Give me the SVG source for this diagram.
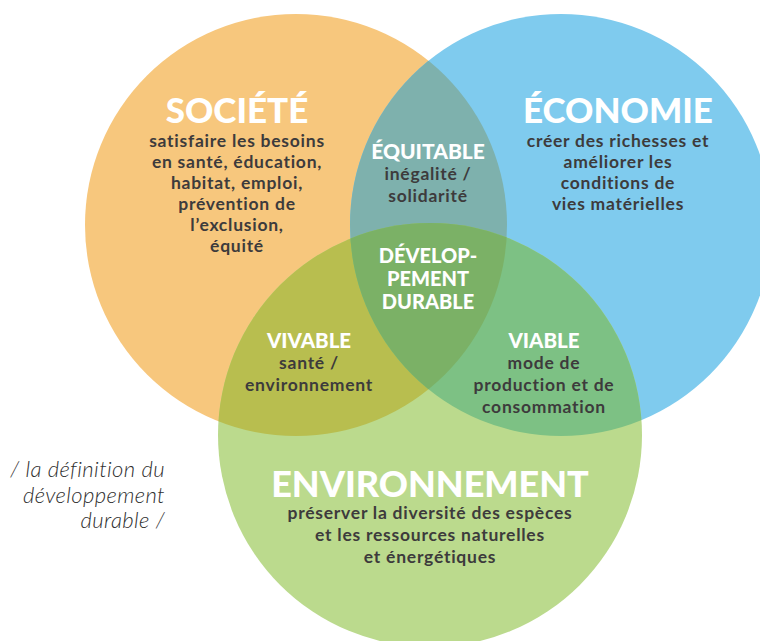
<svg xmlns="http://www.w3.org/2000/svg" width="760" height="641" viewBox="0 0 760 641">
<style>
.h{font-family:Lato,"Liberation Sans",sans-serif;font-weight:900;fill:#ffffff;text-anchor:middle}
.b{font-family:Lato,"Liberation Sans",sans-serif;font-weight:700;fill:#3d3b3c;text-anchor:middle;font-size:17.5px;letter-spacing:0.75px}
.it{font-family:Lato,"Liberation Sans",sans-serif;font-weight:300;font-style:italic;fill:#2e2e2e;text-anchor:end;font-size:22px;letter-spacing:0.4px}
</style>
<defs>
<clipPath id="cO"><circle cx="296" cy="225" r="211"/></clipPath>
<clipPath id="cB"><circle cx="561" cy="225" r="211"/></clipPath>
</defs>
<rect width="760" height="641" fill="#ffffff"/>
<g id="societe-circle"><circle cx="296" cy="225" r="211" fill="#f7c77d"/></g>
<g id="economie-circle"><circle cx="561" cy="225" r="211" fill="#7fcbee"/></g>
<g id="environnement-circle"><circle cx="430" cy="435" r="212" fill="#bbda8d"/></g>
<g id="overlap-equitable"><circle cx="561" cy="225" r="211" fill="#7eb1ad" clip-path="url(#cO)"/></g>
<g id="overlap-vivable"><circle cx="430" cy="435" r="212" fill="#b8be4f" clip-path="url(#cO)"/></g>
<g id="overlap-viable"><circle cx="430" cy="435" r="212" fill="#7dc184" clip-path="url(#cB)"/></g>
<g id="overlap-durable" clip-path="url(#cB)"><circle cx="430" cy="435" r="212" fill="#7bb166" clip-path="url(#cO)"/></g>

<g id="societe">
<text class="h" x="237" y="123" font-size="35">SOCIÉTÉ</text>
<text class="b" x="237" y="147">satisfaire les besoins</text>
<text class="b" x="237" y="168">en santé, éducation,</text>
<text class="b" x="237" y="189">habitat, emploi,</text>
<text class="b" x="237" y="210">prévention de</text>
<text class="b" x="237" y="231">l’exclusion,</text>
<text class="b" x="237" y="252">équité</text>
</g>
<g id="economie">
<text class="h" x="618" y="123" font-size="35">ÉCONOMIE</text>
<text class="b" x="618" y="147">créer des richesses et</text>
<text class="b" x="618" y="168">améliorer les</text>
<text class="b" x="618" y="189">conditions de</text>
<text class="b" x="618" y="210">vies matérielles</text>
</g>
<g id="equitable">
<text class="h" x="428" y="159" font-size="21">ÉQUITABLE</text>
<text class="b" x="428" y="180">inégalité /</text>
<text class="b" x="428" y="202">solidarité</text>
</g>
<g id="developpement-durable">
<text class="h" x="428" y="263" font-size="20">DÉVELOP-</text>
<text class="h" x="428" y="286" font-size="20">PEMENT</text>
<text class="h" x="428" y="309" font-size="20">DURABLE</text>
</g>
<g id="vivable">
<text class="h" x="309" y="348" font-size="20.5">VIVABLE</text>
<text class="b" x="309" y="369">santé /</text>
<text class="b" x="309" y="391">environnement</text>
</g>
<g id="viable">
<text class="h" x="544" y="348" font-size="20.5">VIABLE</text>
<text class="b" x="544" y="369">mode de</text>
<text class="b" x="544" y="391">production et de</text>
<text class="b" x="544" y="413">consommation</text>
</g>
<g id="environnement">
<text class="h" x="430" y="497" font-size="36">ENVIRONNEMENT</text>
<text class="b" x="430" y="519">préserver la diversité des espèces</text>
<text class="b" x="430" y="541">et les ressources naturelles</text>
<text class="b" x="430" y="563">et énergétiques</text>
</g>
<g id="caption">
<text class="it" x="165" y="477">/ la définition du</text>
<text class="it" x="165" y="503">développement</text>
<text class="it" x="165" y="528">durable /</text>
</g>
</svg>
